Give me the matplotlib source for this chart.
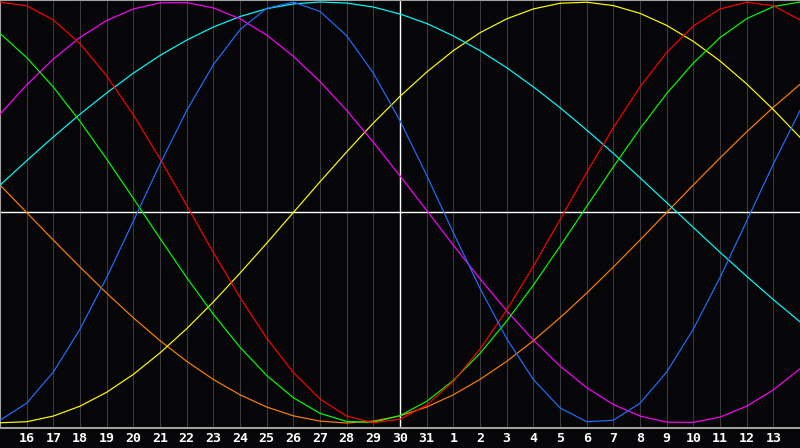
import matplotlib
matplotlib.use("Agg")
import matplotlib.pyplot as plt
import numpy as np

# Day labels (15..31, 1..14)
days = [15, 16, 17, 18, 19, 20, 21, 22, 23, 24, 25, 26, 27, 28, 29, 30, 31,
        1, 2, 3, 4, 5, 6, 7, 8, 9, 10, 11, 12, 13, 14]

blue = [-0.987, -0.906, -0.758, -0.554, -0.309, -0.041, 0.230, 0.484, 0.702, 0.868,
        0.970, 1.000, 0.955, 0.840, 0.662, 0.436, 0.177, -0.096, -0.360, -0.599,
        -0.793, -0.928, -0.994, -0.987, -0.906, -0.758, -0.554, -0.309, -0.041, 0.230, 0.484]
red = [0.999, 0.982, 0.915, 0.802, 0.649, 0.464, 0.255, 0.034, -0.190, -0.403,
       -0.597, -0.760, -0.886, -0.967, -0.999, -0.982, -0.915, -0.802, -0.649, -0.464,
       -0.255, -0.034, 0.190, 0.403, 0.597, 0.760, 0.886, 0.967, 0.999, 0.982, 0.915]
green = [0.851, 0.736, 0.596, 0.433, 0.254, 0.067, -0.123, -0.309, -0.483, -0.640,
         -0.774, -0.880, -0.954, -0.993, -0.997, -0.965, -0.897, -0.798, -0.669, -0.516,
         -0.345, -0.161, 0.029, 0.217, 0.398, 0.565, 0.710, 0.831, 0.921, 0.978, 1.000]
magenta = [0.467, 0.606, 0.729, 0.832, 0.912, 0.967, 0.996, 0.997, 0.972, 0.920,
           0.843, 0.742, 0.622, 0.485, 0.334, 0.174, 0.010, -0.155, -0.315, -0.467,
           -0.606, -0.729, -0.832, -0.912, -0.967, -0.996, -0.997, -0.972, -0.920, -0.843, -0.742]
yellow = [-0.999, -0.994, -0.967, -0.920, -0.854, -0.769, -0.667, -0.552, -0.425, -0.288,
          -0.146, 0.000, 0.146, 0.288, 0.425, 0.552, 0.667, 0.769, 0.854, 0.920,
          0.967, 0.994, 0.999, 0.983, 0.946, 0.889, 0.813, 0.720, 0.611, 0.489, 0.357]
orange = [0.131, 0.000, -0.131, -0.259, -0.383, -0.500, -0.609, -0.707, -0.793, -0.866,
          -0.924, -0.966, -0.991, -1.000, -0.991, -0.966, -0.924, -0.866, -0.793, -0.707,
          -0.609, -0.500, -0.383, -0.259, -0.131, 0.000, 0.131, 0.259, 0.383, 0.500, 0.609]
cyan = [0.130, 0.246, 0.359, 0.467, 0.568, 0.662, 0.746, 0.819, 0.881, 0.931,
        0.968, 0.991, 1.000, 0.995, 0.976, 0.943, 0.898, 0.839, 0.769, 0.688,
        0.597, 0.498, 0.392, 0.281, 0.165, 0.047, -0.071, -0.189, -0.303, -0.414, -0.519]

series = [
    (orange, "#ff8000"),
    (yellow, "#ffff00"),
    (cyan, "#00ffff"),
    (magenta, "#ff00ff"),
    (green, "#00ff00"),
    (red, "#ff0000"),
    (blue, "#1f6fff"),
]

bg = "#060608"
fig = plt.figure(figsize=(8, 4.48), dpi=100, facecolor=bg)
ax = fig.add_axes([0, 20 / 448, 1, 428 / 448])
ax.set_facecolor(bg)

x = np.arange(len(days))
ax.set_xlim(0, len(days) - 1)
ax.set_ylim(-1 - 5 / 210.5, 1 + 2 / 210.5)

tick_idx = x[1:-1]
ax.set_xticks(tick_idx)
ax.set_xticklabels([str(d) for d in days[1:-1]])
ax.set_yticks([])
ax.tick_params(axis="x", length=0, pad=3, colors="white")
for lab in ax.get_xticklabels():
    lab.set_fontfamily("DejaVu Sans Mono")
    lab.set_fontweight("bold")
    lab.set_fontsize(9.5)

for i in tick_idx:
    if days[i] == 30:
        continue
    ax.axvline(i, color="#3a3a3e", lw=0.8, zorder=1)
ax.axvline(days.index(30), color="white", lw=1.0, zorder=1)
ax.axhline(0, color="white", lw=1.0, zorder=1)

for vals, col in series:
    ax.plot(x, vals, color=col, lw=0.85, zorder=3)

for s in ["left", "top", "bottom"]:
    ax.spines[s].set_color("#a0a0a0")
    ax.spines[s].set_linewidth(1.5)
ax.spines["right"].set_visible(False)

fig.savefig("out.png", dpi=100, facecolor=bg)
